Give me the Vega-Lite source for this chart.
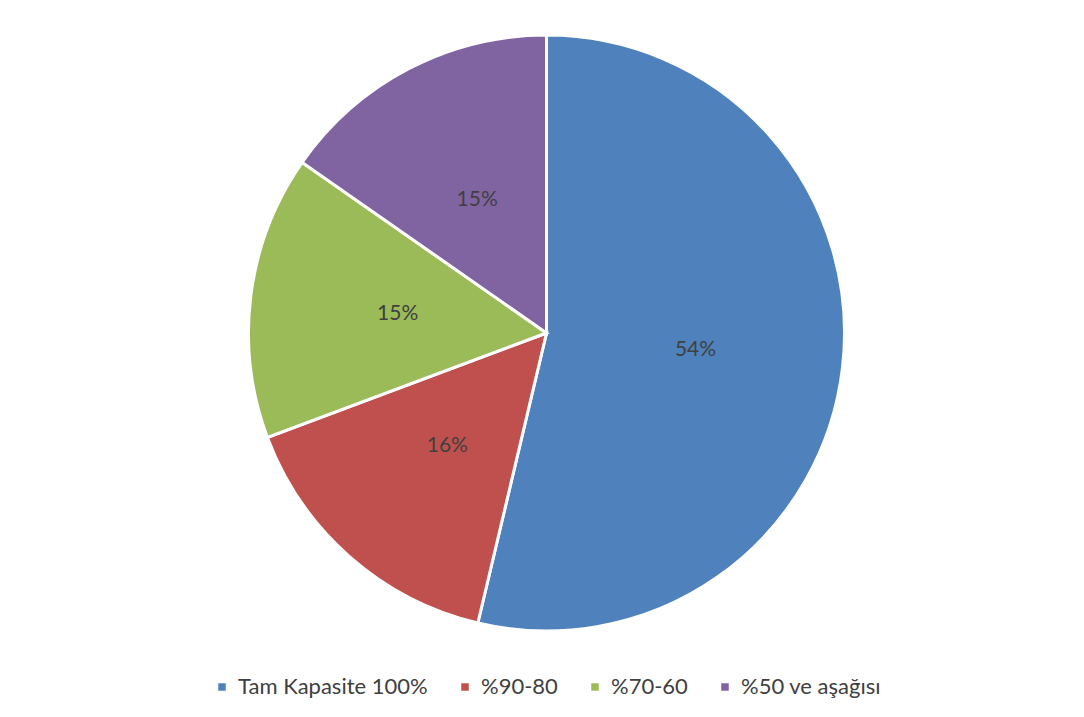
{
  "$schema": "https://vega.github.io/schema/vega-lite/v6.json",
  "width": 1079,
  "height": 658,
  "autosize": "none",
  "padding": {"left": 7, "top": 4, "right": 0, "bottom": 55},
  "background": "white",
  "data": {
    "values": [
      {"kategori": "Tam Kapasite 100%", "deger": 53.7, "etiket": "54%", "sira": 1},
      {"kategori": "%90-80", "deger": 15.6, "etiket": "16%", "sira": 2},
      {"kategori": "%70-60", "deger": 15.4, "etiket": "15%", "sira": 3},
      {"kategori": "%50 ve aşağısı", "deger": 15.3, "etiket": "15%", "sira": 4}
    ]
  },
  "encoding": {
    "theta": {"field": "deger", "type": "quantitative", "stack": true},
    "order": {"field": "sira", "type": "quantitative"},
    "color": {
      "field": "kategori",
      "type": "nominal",
      "sort": ["Tam Kapasite 100%", "%90-80", "%70-60", "%50 ve aşağısı"],
      "scale": {
        "domain": ["Tam Kapasite 100%", "%90-80", "%70-60", "%50 ve aşağısı"],
        "range": ["#4F81BD", "#C0504D", "#9BBB59", "#8064A2"]
      },
      "legend": {
        "title": null,
        "orient": "bottom",
        "direction": "horizontal",
        "offset": 14,
        "symbolType": "square",
        "symbolSize": 56,
        "symbolStrokeWidth": 0,
        "labelFont": "Lato",
        "labelFontSize": 22,
        "labelLimit": 400,
        "labelColor": "#404040",
        "columnPadding": 26,
        "symbolOffset": 0,
        "labelOffset": 5
      }
    }
  },
  "layer": [
    {
      "mark": {"type": "arc", "outerRadius": 298, "stroke": "white", "strokeWidth": 3}
    },
    {
      "mark": {"type": "text", "radius": 150, "font": "Lato", "fontSize": 21, "color": "#404040"},
      "encoding": {"text": {"field": "etiket"}, "color": {"value": "#404040"}}
    }
  ],
  "config": {
    "view": {"stroke": null},
    "legend": {"layout": {"bottom": {"anchor": "middle"}}}
  }
}
